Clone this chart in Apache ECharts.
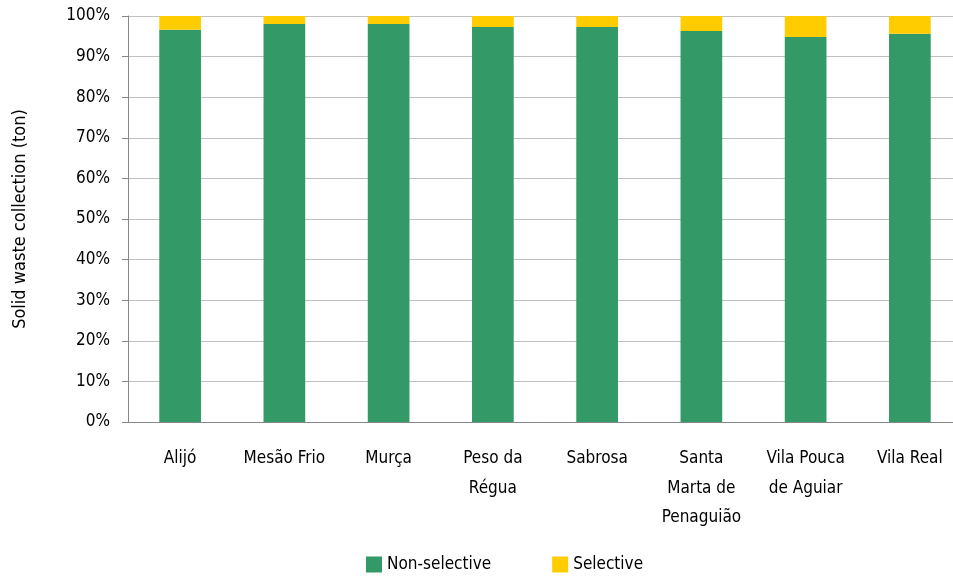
<!DOCTYPE html>
<html>
<head>
<meta charset="utf-8">
<title>Solid waste collection</title>
<style>
  html, body { margin: 0; padding: 0; background: #fff; }
  #main { width: 953px; height: 581px; }
</style>
</head>
<body>
<div id="main"></div>
<script src="https://cdn.jsdelivr.net/npm/echarts@6/dist/echarts.min.js"></script>
<script>
// municipalities (axis labels, with line breaks as in the original)
var municipalities = ['Alijó', 'Mesão Frio', 'Murça', 'Peso da\nRégua', 'Sabrosa',
  'Santa\nMarta de\nPenaguião', 'Vila Pouca\nde Aguiar', 'Vila Real'];
// share of each kind of collection, %
var nonSelective = [96.6, 98.0, 98.0, 97.3, 97.3, 96.3, 94.8, 95.6];
var selective = [3.4, 2.0, 2.0, 2.7, 2.7, 3.7, 5.2, 4.4];

var font = '"DejaVu Sans Condensed", "Liberation Sans", sans-serif';

var chart = echarts.init(document.getElementById('main'));
chart.setOption({
  animation: false,
  textStyle: { fontFamily: font },
  // the plot runs a little past the right edge of the picture, as in the original
  grid: { left: 128, width: 834, top: 16, bottom: 159, outerBoundsMode: 'none' },
  legend: {
    bottom: 3,
    left: 361,
    itemWidth: 16,
    itemHeight: 16,
    itemGap: 61,
    icon: 'rect',
    textStyle: { fontFamily: font, fontSize: 17, color: '#000' },
    data: ['Non-selective', 'Selective']
  },
  xAxis: {
    type: 'category',
    data: municipalities,
    axisLine: { lineStyle: { color: '#868686' } },
    axisTick: { length: 8, lineStyle: { color: '#868686' } },
    axisLabel: {
      interval: 0,
      margin: 22,
      fontFamily: font,
      fontSize: 17,
      lineHeight: 29.5,
      color: '#000',
      verticalAlign: 'top'
    }
  },
  yAxis: {
    type: 'value',
    min: 0,
    max: 100,
    interval: 10,
    name: 'Solid waste collection (ton)',
    nameLocation: 'middle',
    nameGap: 99,
    nameTextStyle: { fontFamily: font, fontSize: 18, color: '#000' },
    axisLine: { show: true, lineStyle: { color: '#868686' } },
    axisTick: { show: true, length: 6, inside: false, lineStyle: { color: '#868686' } },
    axisLabel: {
      formatter: '{value}%',
      margin: 18,
      fontFamily: font,
      fontSize: 17,
      color: '#000'
    },
    splitLine: { lineStyle: { color: '#c0c0c0', width: 1 } }
  },
  series: [
    {
      name: 'Non-selective',
      type: 'bar',
      stack: 'total',
      barWidth: '40%',
      itemStyle: { color: '#339966' },
      data: nonSelective
    },
    {
      name: 'Selective',
      type: 'bar',
      stack: 'total',
      barWidth: '40%',
      itemStyle: { color: '#ffcc00' },
      data: selective
    }
  ]
});
</script>
</body>
</html>
